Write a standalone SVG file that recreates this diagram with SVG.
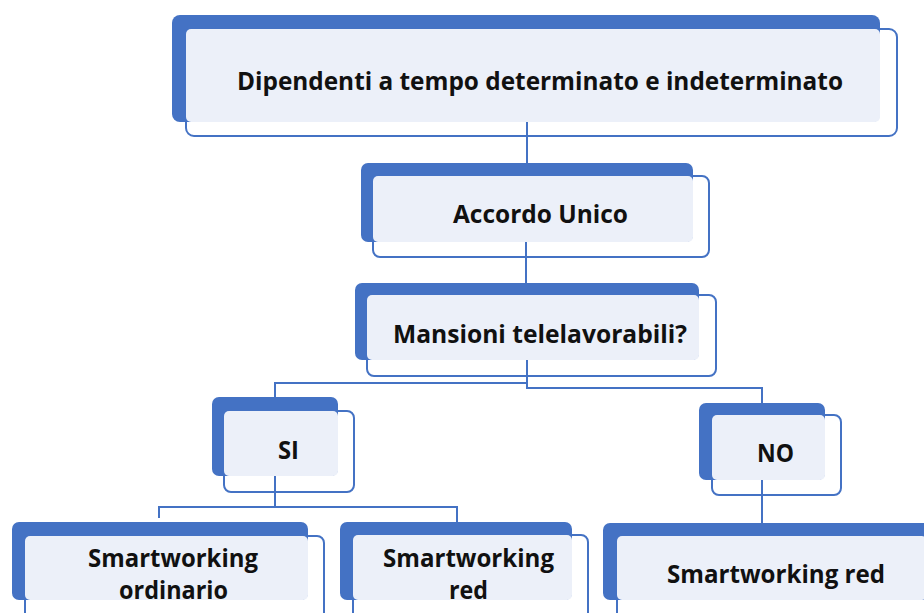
<svg xmlns="http://www.w3.org/2000/svg" width="924" height="613" viewBox="0 0 924 613">
<style>
.ol{fill:none;stroke:#4472C4;stroke-width:2}
.dk{fill:#4472C4}
.lt{fill:#ECF0F9}
.cn{fill:none;stroke:#4472C4;stroke-width:2}
text{font-family:"Open Sans","Noto Sans","Liberation Sans",sans-serif;font-weight:bold;font-size:25px;fill:#111;text-anchor:middle}
</style>
<rect width="924" height="613" fill="#fff"/>
<g id="connectors">
<path class="cn" d="M527,122V163"/>
<path class="cn" d="M526,242V283"/>
<path class="cn" d="M527,360V383H275V397"/>
<path class="cn" d="M527,383V388H762V403"/>
<path class="cn" d="M275,476V507"/>
<path class="cn" d="M159,518V507H457V522"/>
<path class="cn" d="M762,480V523"/>
</g>
<g id="n-top">
<rect class="ol" x="186" y="29" width="711" height="107" rx="8"/>
<rect class="dk" x="172" y="15" width="708" height="107" rx="8"/>
<rect class="lt" x="186" y="29" width="694" height="93" rx="5"/>
<text x="540" y="90" textLength="606" lengthAdjust="spacingAndGlyphs">Dipendenti a tempo determinato e indeterminato</text>
</g>
<g id="n-accordo">
<rect class="ol" x="373" y="176" width="336" height="81" rx="7"/>
<rect class="dk" x="361" y="163" width="332" height="79" rx="7"/>
<rect class="lt" x="373" y="176" width="320" height="66" rx="5"/>
<text x="540.5" y="223" textLength="175" lengthAdjust="spacingAndGlyphs">Accordo Unico</text>
</g>
<g id="n-mansioni">
<rect class="ol" x="367" y="295" width="349" height="81" rx="7"/>
<rect class="dk" x="355" y="283" width="344" height="77" rx="7"/>
<rect class="lt" x="367" y="295" width="332" height="65" rx="5"/>
<text x="540" y="343" textLength="294" lengthAdjust="spacingAndGlyphs">Mansioni telelavorabili?</text>
</g>
<g id="n-si">
<rect class="ol" x="224" y="411" width="130" height="81" rx="7"/>
<rect class="dk" x="212" y="397" width="126" height="79" rx="7"/>
<rect class="lt" x="224" y="411" width="114" height="65" rx="5"/>
<text x="288.5" y="459" textLength="21" lengthAdjust="spacingAndGlyphs">SI</text>
</g>
<g id="n-no">
<rect class="ol" x="712" y="415" width="129" height="80" rx="7"/>
<rect class="dk" x="699" y="403" width="126" height="77" rx="7"/>
<rect class="lt" x="712" y="415" width="113" height="65" rx="5"/>
<text x="775.5" y="462" textLength="37" lengthAdjust="spacingAndGlyphs">NO</text>
</g>
<g id="n-sw-ord">
<rect class="ol" x="25" y="536" width="299" height="90" rx="7"/>
<rect class="dk" x="12" y="522" width="296" height="78" rx="7"/>
<rect class="lt" x="25" y="536" width="283" height="64" rx="5"/>
<text x="173" y="567" textLength="170" lengthAdjust="spacingAndGlyphs">Smartworking</text>
<text x="173.5" y="599" textLength="109" lengthAdjust="spacingAndGlyphs">ordinario</text>
</g>
<g id="n-sw-red1">
<rect class="ol" x="353" y="535" width="235" height="90" rx="7"/>
<rect class="dk" x="340" y="522" width="232" height="78" rx="7"/>
<rect class="lt" x="353" y="535" width="219" height="65" rx="5"/>
<text x="468.5" y="567" textLength="171" lengthAdjust="spacingAndGlyphs">Smartworking</text>
<text x="468.5" y="599" textLength="39" lengthAdjust="spacingAndGlyphs">red</text>
</g>
<g id="n-sw-red2">
<rect class="ol" x="617" y="536" width="330" height="90" rx="7"/>
<rect class="dk" x="603" y="523" width="330" height="77" rx="7"/>
<rect class="lt" x="617" y="536" width="310" height="64" rx="5"/>
<text x="776" y="583" textLength="218" lengthAdjust="spacingAndGlyphs">Smartworking red</text>
</g>
</svg>
